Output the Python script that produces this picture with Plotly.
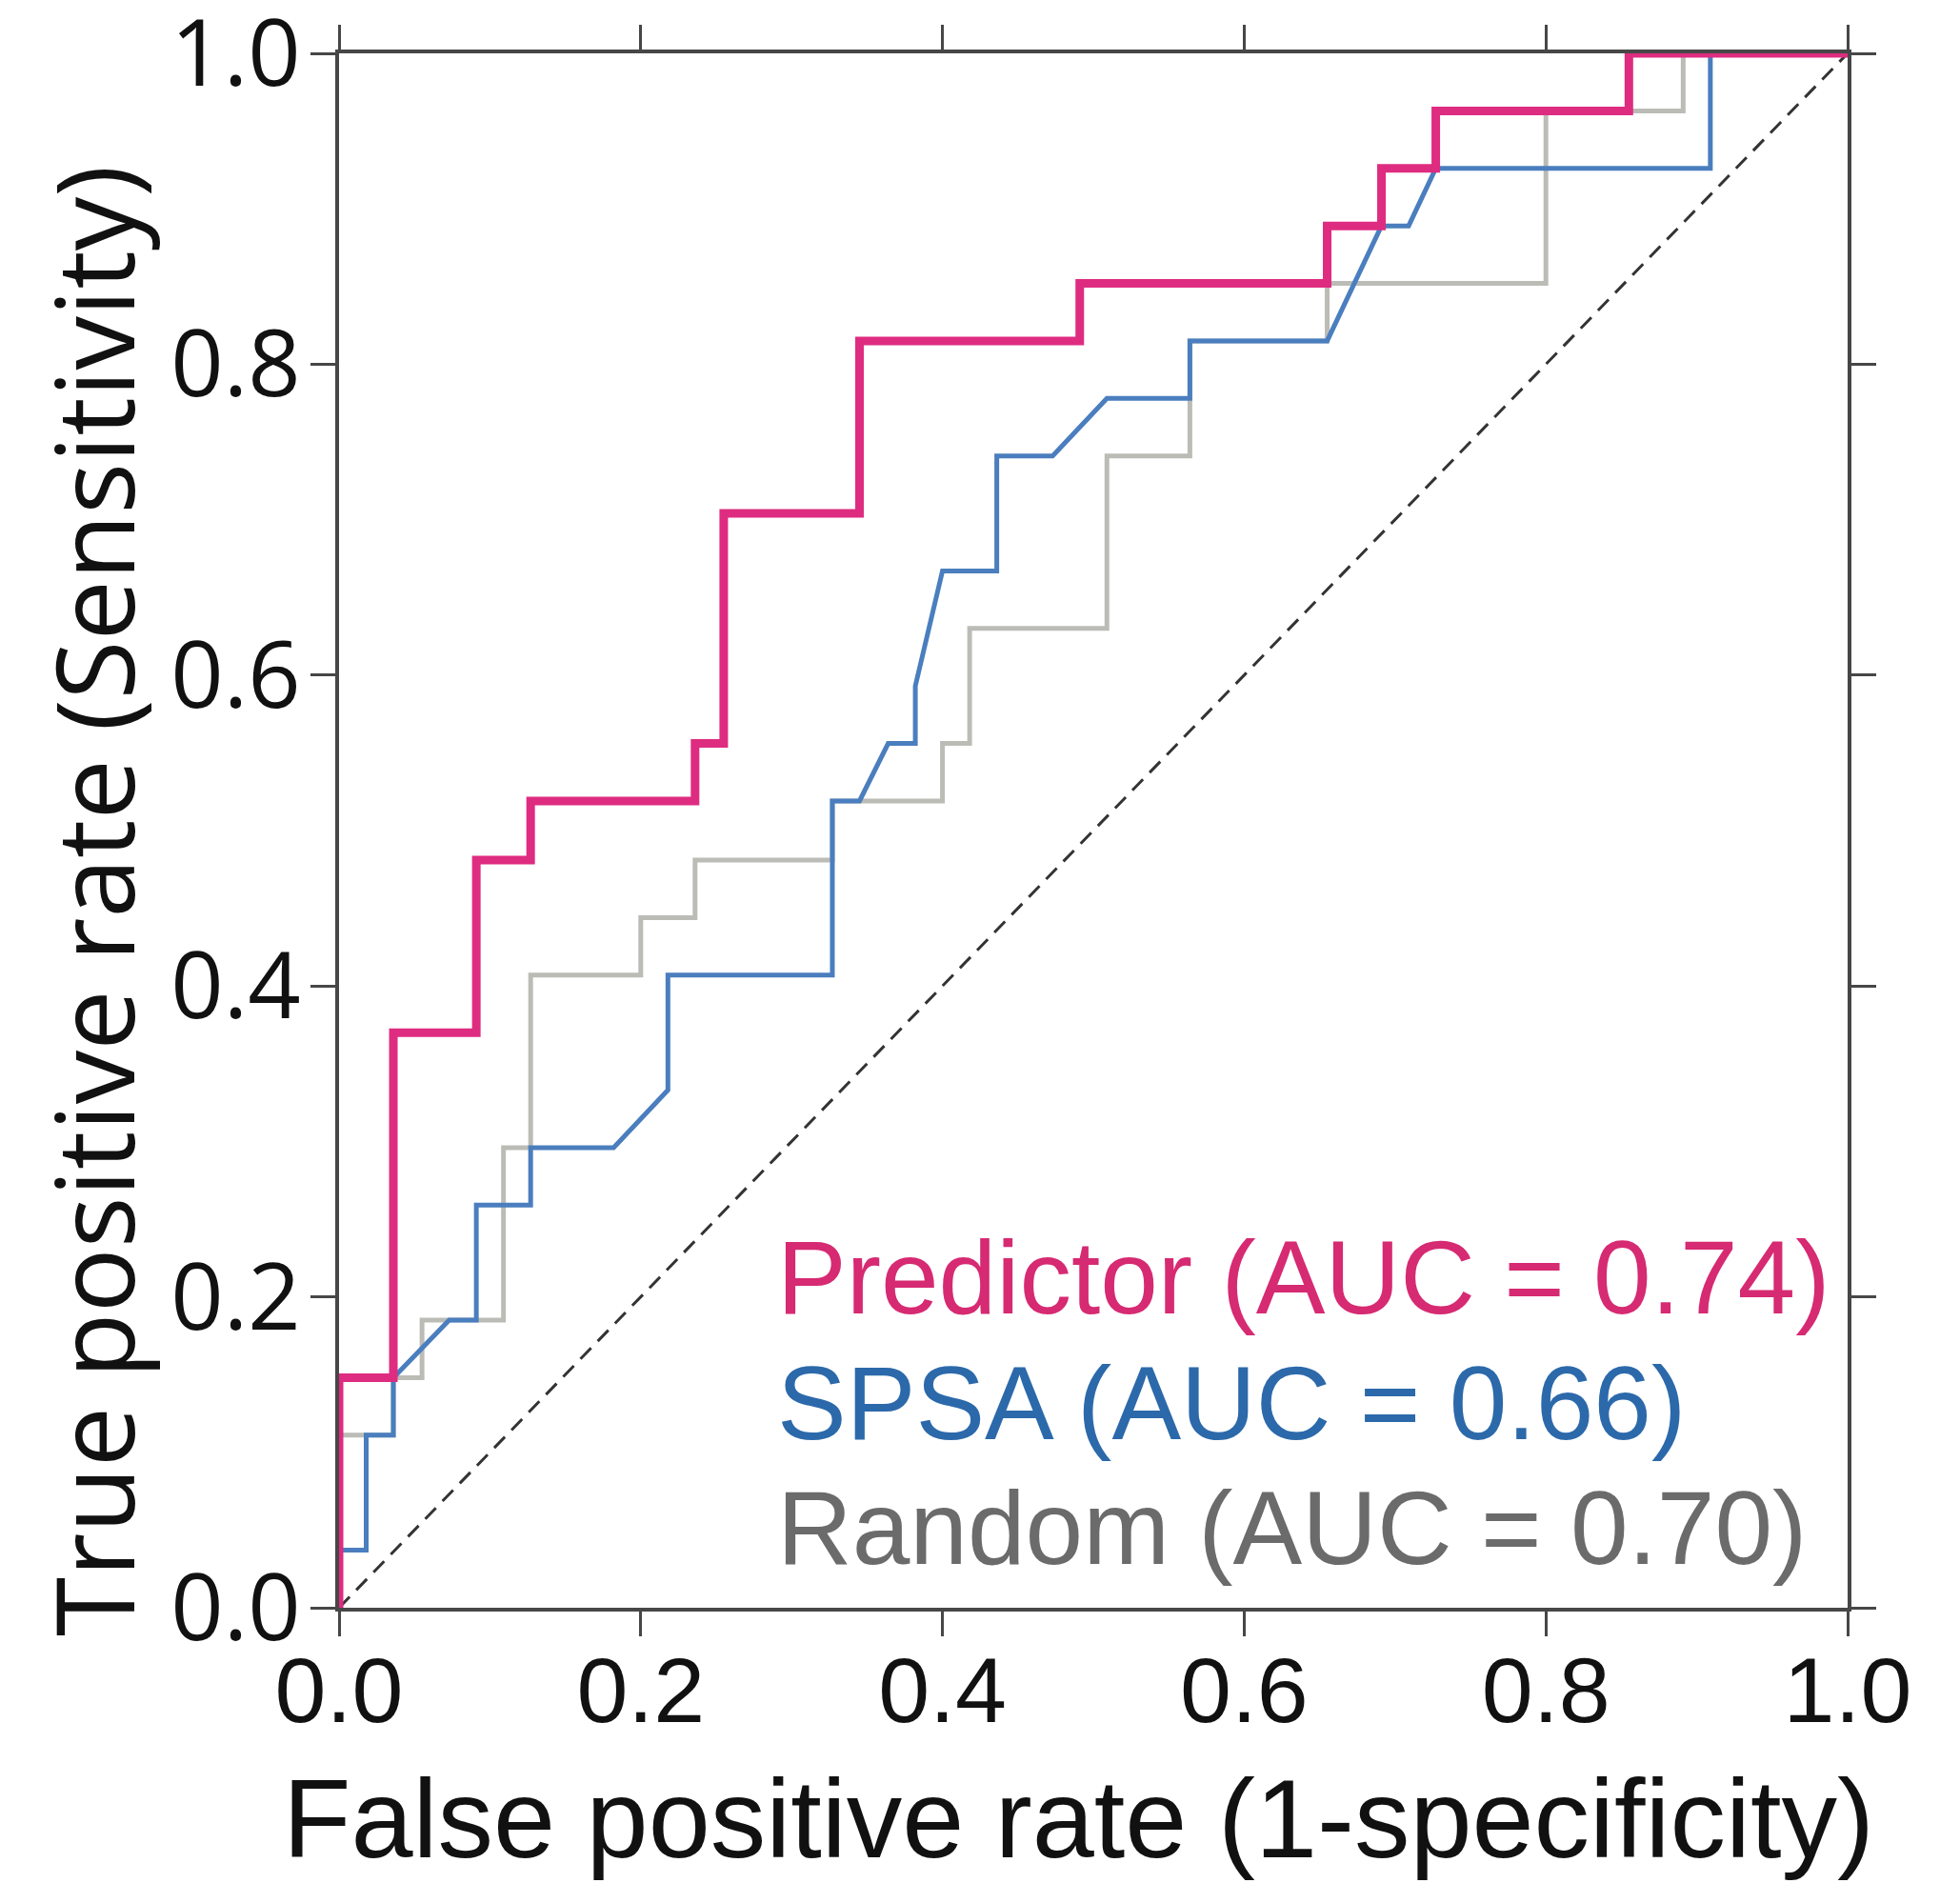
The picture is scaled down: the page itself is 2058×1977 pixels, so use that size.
import plotly.graph_objects as go

# ---------------- data ----------------
pred_fpr = [0, 0, 0.036, 0.036, 0.091, 0.091, 0.127, 0.127, 0.236, 0.236, 0.255, 0.255,
            0.345, 0.345, 0.491, 0.491, 0.655, 0.655, 0.691, 0.691, 0.727, 0.727, 0.855, 0.855, 1.0]
pred_tpr = [0, 0.148, 0.148, 0.370, 0.370, 0.481, 0.481, 0.519, 0.519, 0.556, 0.556, 0.704,
            0.704, 0.815, 0.815, 0.852, 0.852, 0.889, 0.889, 0.926, 0.926, 0.963, 0.963, 1.0, 1.0]

spsa_fpr = [0, 0, 0.018, 0.018, 0.036, 0.036, 0.073, 0.091, 0.091, 0.127, 0.127, 0.182, 0.218,
            0.218, 0.327, 0.327, 0.345, 0.364, 0.382, 0.382, 0.400, 0.436, 0.436, 0.473, 0.509,
            0.564, 0.564, 0.655, 0.691, 0.709, 0.727, 0.909, 0.909, 1.0]
spsa_tpr = [0, 0.037, 0.037, 0.111, 0.111, 0.148, 0.185, 0.185, 0.259, 0.259, 0.296, 0.296, 0.333,
            0.407, 0.407, 0.519, 0.519, 0.556, 0.556, 0.593, 0.667, 0.667, 0.741, 0.741, 0.778,
            0.778, 0.815, 0.815, 0.889, 0.889, 0.926, 0.926, 1.0, 1.0]

rand_fpr = [0, 0, 0.036, 0.036, 0.055, 0.055, 0.109, 0.109, 0.127, 0.127, 0.200, 0.200, 0.236,
            0.236, 0.327, 0.327, 0.400, 0.400, 0.418, 0.418, 0.509, 0.509, 0.564, 0.564, 0.655,
            0.655, 0.800, 0.800, 0.891, 0.891, 1.0]
rand_tpr = [0, 0.111, 0.111, 0.148, 0.148, 0.185, 0.185, 0.296, 0.296, 0.407, 0.407, 0.444, 0.444,
            0.481, 0.481, 0.519, 0.519, 0.556, 0.556, 0.630, 0.630, 0.741, 0.741, 0.815, 0.815,
            0.852, 0.852, 0.963, 0.963, 1.0, 1.0]

chance_x = [0, 1]
chance_y = [0, 1]

legend_labels = ["Predictor (AUC = 0.74)", "SPSA (AUC = 0.66)", "Random (AUC = 0.70)"]
tick_vals = [0.0, 0.2, 0.4, 0.6, 0.8, 1.0]
tick_text = ["0.0", "0.2", "0.4", "0.6", "0.8", "1.0"]
x_title = "False positive rate (1-specificity)"
y_title = "True positive rate (Sensitivity)"

# ---------------- styling ----------------
PINK = "#DE2C80"
BLUE = "#4A7EBE"
GRAY = "#BCBCB7"
PINK_TXT = "#D62A72"
BLUE_TXT = "#2C69AA"
GRAY_TXT = "#6B6B6B"
AXIS = "#474747"

fig = go.Figure()
fig.add_trace(go.Scatter(x=chance_x, y=chance_y, mode="lines",
                         line=dict(color="#333333", width=3, dash="16px,10px"),
                         hoverinfo="skip"))
fig.add_trace(go.Scatter(x=rand_fpr, y=rand_tpr, mode="lines",
                         line=dict(color=GRAY, width=5), name=legend_labels[2]))
fig.add_trace(go.Scatter(x=spsa_fpr, y=spsa_tpr, mode="lines",
                         line=dict(color=BLUE, width=5), name=legend_labels[1]))
fig.add_trace(go.Scatter(x=pred_fpr, y=pred_tpr, mode="lines",
                         line=dict(color=PINK, width=9), name=legend_labels[0]))

axis_common = dict(range=[0, 1], tickvals=tick_vals, ticktext=tick_text,
                   ticks="outside", ticklen=26, tickwidth=3, tickcolor=AXIS,
                   showline=True, linewidth=4, linecolor=AXIS, mirror="ticks",
                   showgrid=False, zeroline=False, fixedrange=True,
                   ticklabeloverflow="allow", automargin=False)

fig.update_xaxes(**axis_common,
                 tickfont=dict(family="Liberation Sans, Arial", size=97, color="#111111"),
                 ticklabelstandoff=-26)
fig.update_yaxes(**axis_common,
                 tickfont=dict(family="Open Sans, Noto Sans, sans-serif", size=97, color="#111111"),
                 ticklabelstandoff=-9)

annotations = []
# legend texts
leg_y = [0.2126, 0.1317, 0.0515]
leg_col = [PINK_TXT, BLUE_TXT, GRAY_TXT]
for lab, yy, cc in zip(legend_labels, leg_y, leg_col):
    annotations.append(dict(text=lab, x=0.2891, y=yy, xref="paper", yref="paper",
                            xanchor="left", yanchor="middle", showarrow=False,
                            font=dict(family="Liberation Sans, Arial", size=109, color=cc)))
# axis titles
annotations.append(dict(text=x_title, x=0.490, y=-0.136, xref="paper", yref="paper",
                        xanchor="center", yanchor="middle", showarrow=False,
                        font=dict(family="Liberation Sans, Arial", size=117, color="#111111")))
annotations.append(dict(text=y_title, x=-0.1635, y=0.4547, xref="paper", yref="paper",
                        xanchor="center", yanchor="middle", showarrow=False, textangle=-90,
                        font=dict(family="Open Sans, Noto Sans, sans-serif", size=113, color="#111111")))

fig.update_layout(width=2058, height=1977, autosize=False,
                  margin=dict(l=356, r=118, t=56, b=289, pad=0, autoexpand=False),
                  paper_bgcolor="white", plot_bgcolor="white",
                  showlegend=False, annotations=annotations)

fig.write_html("out.html")
